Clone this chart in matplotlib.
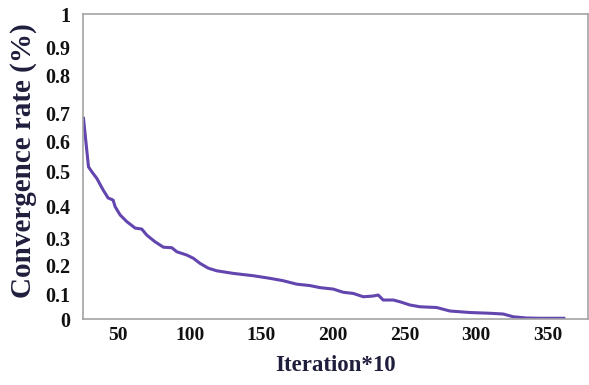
import matplotlib.pyplot as plt
import numpy as np

# Convergence curve (iteration*10, rate)
iteration = [25.8, 29.3, 31.6, 35.1, 39.5, 43.0, 46.5, 47.9, 51.4, 56.1,
             61.9, 66.5, 70.0, 75.8, 81.6, 87.5, 91.0, 97.9, 102.5, 107.2,
             113.0, 118.9, 130.5, 144.4, 156.1, 165.1, 174.7, 184.0, 191.0, 200.2,
             207.2, 214.2, 221.2, 228.2, 231.6, 235.1, 242.1, 246.8, 253.8, 260.7,
             272.4, 281.7, 295.6, 309.6, 318.9, 325.9, 335.2, 344.5, 361.2]
rate = [0.681, 0.514, 0.498, 0.479, 0.446, 0.423, 0.417, 0.398, 0.372, 0.351,
        0.331, 0.328, 0.309, 0.286, 0.266, 0.264, 0.249, 0.237, 0.225, 0.206,
        0.189, 0.180, 0.171, 0.163, 0.154, 0.146, 0.134, 0.129, 0.122, 0.117,
        0.106, 0.102, 0.089, 0.092, 0.096, 0.076, 0.076, 0.069, 0.056, 0.049,
        0.046, 0.032, 0.026, 0.023, 0.020, 0.009, 0.004, 0.003, 0.003]

x_ticks = [50, 100, 150, 200, 250, 300, 350]
y_ticks = [0, 0.1, 0.2, 0.3, 0.4, 0.5, 0.6, 0.7, 0.8, 0.9, 1]
y_tick_labels = ['0', '0.1', '0.2', '0.3', '0.4', '0.5', '0.6', '0.7', '0.8', '0.9', '1']

# The original axis is unevenly spaced; piecewise-linear scale reproduces it
scale_pts = [0, 25, 54, 81, 113, 148, 178, 206, 244, 272, 305]


def fwd(v):
    return np.interp(v, y_ticks, scale_pts)


def inv(h):
    return np.interp(h, scale_pts, y_ticks)


plt.rcParams['font.family'] = ['Liberation Serif', 'DejaVu Serif']
plt.rcParams['font.weight'] = 'bold'

fig = plt.figure(figsize=(5.89, 3.85), dpi=100)
ax = fig.add_axes([0.141, 0.1714, 0.857, 0.7922])

ax.plot(iteration, rate, color='#6245ae', linewidth=2.2, solid_joinstyle='round')

ax.set_yscale('function', functions=(fwd, inv))
ax.set_xlim(25.5, 378)
ax.set_ylim(0, 1)
ax.set_xticks(x_ticks)
ax.set_yticks(y_ticks)
ax.set_yticklabels(y_tick_labels)
ax.minorticks_off()

ax.tick_params(axis='both', length=0, colors='#111111')
ax.tick_params(axis='x', labelsize=14, pad=6)
ax.tick_params(axis='y', labelsize=14.5, pad=9)
for spine in ax.spines.values():
    spine.set_color('#a3a3a3')
    spine.set_linewidth(1.2)

ax.set_xlabel('Iteration*10', fontsize=16.5, fontweight='bold', color='#1f1f3d', labelpad=8)
ax.set_ylabel('Convergence rate (%)', fontsize=21, fontweight='bold', color='#1f1f3d')
ax.yaxis.set_label_coords(-0.092, 0.52)

fig.savefig('out.png', dpi=100)
